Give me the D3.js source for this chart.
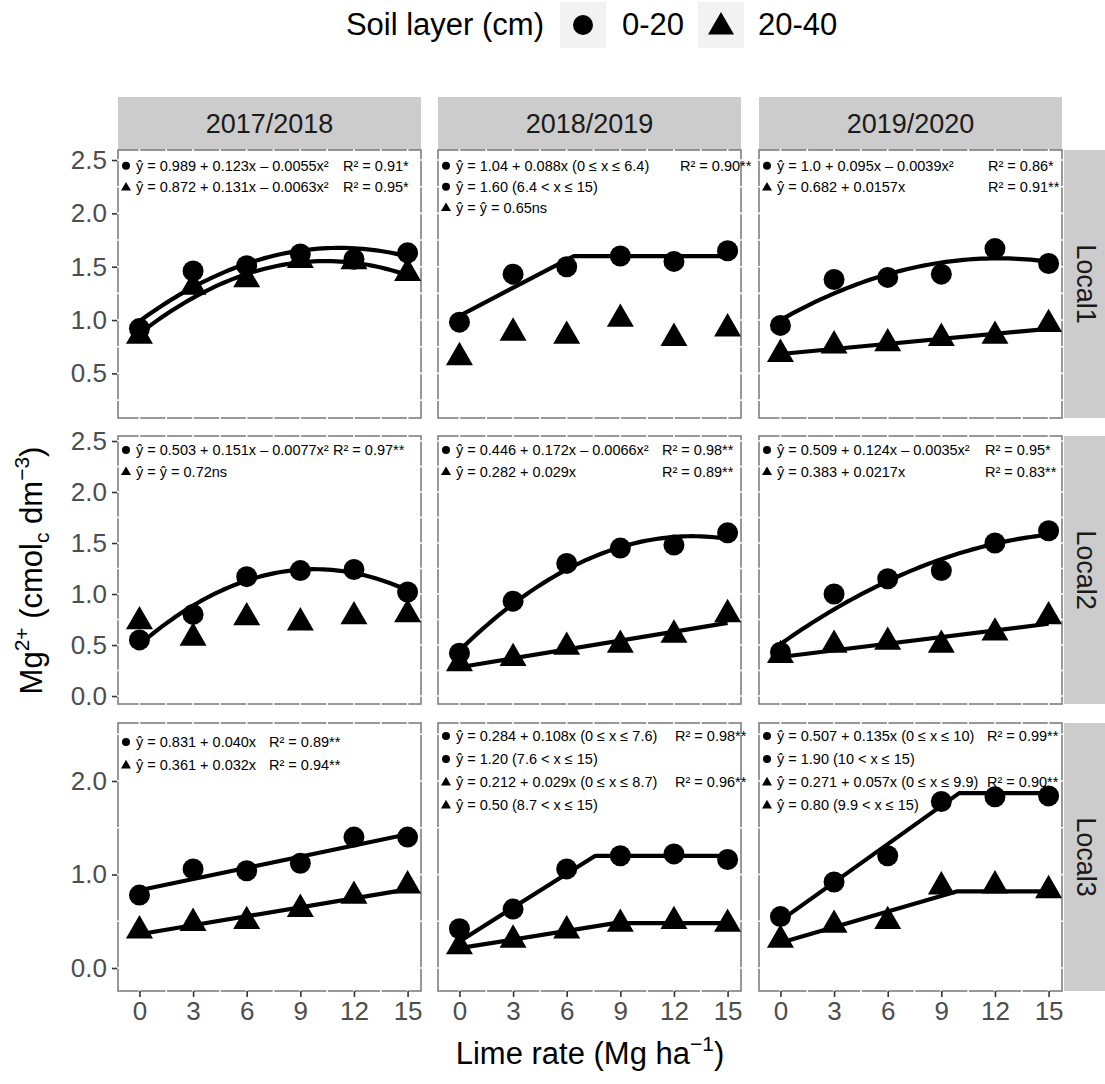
<!DOCTYPE html>
<html><head><meta charset="utf-8">
<script src="https://cdn.jsdelivr.net/npm/d3@7"></script>
<style>body{margin:0;background:#fff}svg{display:block}text{font-family:"Liberation Sans",Arial,sans-serif}</style>
</head><body><svg id="c" width="1105" height="1084"></svg>
<script>
// ---------- DATA ----------
const years = ["2017/2018","2018/2019","2019/2020"];
const locals = ["Local1","Local2","Local3"];
const limeRates = [0,3,6,9,12,15];
const xTicks = [0,3,6,9,12,15];
const yTicksByRow = [[0.5,1.0,1.5,2.0,2.5],[0.0,0.5,1.0,1.5,2.0,2.5],[0.0,1.0,2.0]];
const layers = ["0-20","20-40"];
// observed means [row][col]
const obs020 = [
  [[0.92,1.46,1.51,1.62,1.57,1.63],[0.98,1.43,1.50,1.60,1.55,1.65],[0.95,1.38,1.40,1.43,1.67,1.53]],
  [[0.55,0.80,1.17,1.23,1.24,1.02],[0.42,0.93,1.30,1.45,1.48,1.60],[0.43,1.00,1.15,1.23,1.50,1.62]],
  [[0.78,1.06,1.04,1.12,1.40,1.40],[0.42,0.63,1.06,1.20,1.22,1.16],[0.55,0.92,1.20,1.78,1.83,1.84]]
];
const obs2040 = [
  [[0.85,1.31,1.38,1.56,1.55,1.44],[0.65,0.88,0.85,1.01,0.83,0.92],[0.68,0.76,0.78,0.83,0.85,0.96]],
  [[0.73,0.57,0.77,0.72,0.78,0.80],[0.32,0.37,0.48,0.50,0.60,0.80],[0.40,0.50,0.53,0.50,0.62,0.78]],
  [[0.40,0.48,0.50,0.63,0.77,0.88],[0.23,0.30,0.40,0.47,0.50,0.47],[0.30,0.46,0.50,0.87,0.88,0.83]]
];
// fitted models: quad [a,b,c] ; lin [a,b] ; lp [a,b,join,plateau] ; ns null
const fit020 = [
  [{t:"quad",p:[0.989,0.123,-0.0055]},{t:"lp",p:[1.04,0.088,6.4,1.60]},{t:"quad",p:[1.0,0.095,-0.0039]}],
  [{t:"quad",p:[0.503,0.151,-0.0077]},{t:"quad",p:[0.446,0.172,-0.0066]},{t:"quad",p:[0.509,0.124,-0.0035]}],
  [{t:"lin",p:[0.831,0.040]},{t:"lp",p:[0.284,0.108,7.6,1.20]},{t:"lp",p:[0.507,0.135,10,1.87]}]
];
const fit2040 = [
  [{t:"quad",p:[0.872,0.131,-0.0063]},null,{t:"lin",p:[0.682,0.0157]}],
  [null,{t:"lin",p:[0.282,0.029]},{t:"lin",p:[0.383,0.0217]}],
  [{t:"lin",p:[0.361,0.032]},{t:"lp",p:[0.212,0.029,8.7,0.48]},{t:"lp",p:[0.271,0.057,9.9,0.82]}]
];
// equation labels [row][col] -> [symbol, equation, R2]
const eqs = [
  [[["c","ŷ = 0.989 + 0.123x – 0.0055x²","R² = 0.91*"],["t","ŷ = 0.872 + 0.131x – 0.0063x²","R² = 0.95*"]],
   [["c","ŷ = 1.04 + 0.088x (0 ≤ x ≤ 6.4)","R² = 0.90**"],["c","ŷ = 1.60 (6.4 < x ≤ 15)",""],["t","ŷ = ŷ = 0.65ns",""]],
   [["c","ŷ = 1.0 + 0.095x – 0.0039x²","R² = 0.86*"],["t","ŷ = 0.682 + 0.0157x","R² = 0.91**"]]],
  [[["c","ŷ = 0.503 + 0.151x – 0.0077x²","R² = 0.97**"],["t","ŷ = ŷ = 0.72ns",""]],
   [["c","ŷ = 0.446 + 0.172x – 0.0066x²","R² = 0.98**"],["t","ŷ = 0.282 + 0.029x","R² = 0.89**"]],
   [["c","ŷ = 0.509 + 0.124x – 0.0035x²","R² = 0.95*"],["t","ŷ = 0.383 + 0.0217x","R² = 0.83**"]]],
  [[["c","ŷ = 0.831 + 0.040x","R² = 0.89**"],["t","ŷ = 0.361 + 0.032x","R² = 0.94**"]],
   [["c","ŷ = 0.284 + 0.108x (0 ≤ x ≤ 7.6)","R² = 0.98**"],["c","ŷ = 1.20 (7.6 < x ≤ 15)",""],["t","ŷ = 0.212 + 0.029x (0 ≤ x ≤ 8.7)","R² = 0.96**"],["t","ŷ = 0.50 (8.7 < x ≤ 15)",""]],
   [["c","ŷ = 0.507 + 0.135x (0 ≤ x ≤ 10)","R² = 0.99**"],["c","ŷ = 1.90 (10 < x ≤ 15)",""],["t","ŷ = 0.271 + 0.057x (0 ≤ x ≤ 9.9)","R² = 0.90**"],["t","ŷ = 0.80 (9.9 < x ≤ 15)",""]]]
];

// ---------- LAYOUT ----------
const panelX = [118, 438, 759], panelW = 303;
const panelY = [150, 436, 723], panelH = 268;
const yDomains = [[0.082, 2.594],[-0.078, 2.549],[-0.246, 2.62]];
const yMinorStep = [0.25, 0.25, 0.5];
const xDomain = [-1.2, 15.75];
const eqFirst = [[15.7,15.7,15.7],[14,14,14],[19,13,13]];
const eqStep = [[21.5,21,21.5],[21.7,21.7,21.7],[23,23,23]];
const r2X = [[225,242,229],[215,224,226],[151,237,228]];
const border = "#7f7f7f", tickCol = "#333333", labCol = "#4d4d4d", stripCol = "#cccccc";
const eqSize = 14.5, tickSize = 26, titleSize = 31, stripSize = 27;

const svg = d3.select("#c");
const tri = (s) => { const h = s*Math.sqrt(3)/2; return `M0,${-h*2/3}L${s/2},${h/3}L${-s/2},${h/3}Z`; };

function modelPts(m){
  const pts=[];
  if(m.t==="quad"){ for(let x=0;x<=15.0001;x+=0.25) pts.push([x,m.p[0]+m.p[1]*x+m.p[2]*x*x]); }
  else if(m.t==="lin"){ pts.push([0,m.p[0]],[15,m.p[0]+m.p[1]*15]); }
  else if(m.t==="lp"){ pts.push([0,m.p[0]],[m.p[2],m.p[3]],[15,m.p[3]]); }
  return pts;
}

// legend
const lg = svg.append("g");
lg.append("text").attr("x",544).attr("y",35).attr("text-anchor","end").attr("font-size",titleSize).text("Soil layer (cm)");
lg.append("rect").attr("x",560).attr("y",2).attr("width",46).attr("height",46).attr("fill","#f2f2f2");
lg.append("circle").attr("cx",583).attr("cy",25).attr("r",10).attr("fill","#000");
lg.append("text").attr("x",622).attr("y",35).attr("font-size",titleSize).text(layers[0]);
lg.append("rect").attr("x",698).attr("y",2).attr("width",46).attr("height",46).attr("fill","#f2f2f2");
lg.append("path").attr("d",tri(26)).attr("transform","translate(721,27)").attr("fill","#000");
lg.append("text").attr("x",758).attr("y",35).attr("font-size",titleSize).text(layers[1]);

// strips
years.forEach((yr,j)=>{
  svg.append("rect").attr("x",panelX[j]).attr("y",97).attr("width",panelW).attr("height",53).attr("fill",stripCol);
  svg.append("text").attr("x",panelX[j]+panelW/2).attr("y",133).attr("text-anchor","middle").attr("font-size",stripSize).attr("fill","#1a1a1a").text(yr);
});
locals.forEach((lc,i)=>{
  svg.append("rect").attr("x",panelX[2]+panelW+2).attr("y",panelY[i]).attr("width",53).attr("height",panelH).attr("fill",stripCol);
  svg.append("text").attr("transform",`translate(${panelX[2]+panelW+2+22},${panelY[i]+panelH/2}) rotate(90)`)
    .attr("text-anchor","middle").attr("dy","0.35em").attr("font-size",stripSize).attr("fill","#1a1a1a").text(lc);
});

for(let i=0;i<3;i++){
  const y = d3.scaleLinear().domain(yDomains[i]).range([panelY[i]+panelH, panelY[i]]);
  const ya = svg.append("g").attr("transform",`translate(${panelX[0]},0)`)
    .call(d3.axisLeft(y).tickValues(yTicksByRow[i]).tickFormat(d3.format(".1f")).tickSize(6).tickPadding(5));
  ya.select(".domain").remove();
  ya.selectAll("line").attr("stroke",tickCol).attr("stroke-width",1.6);
  ya.selectAll("text").attr("font-size",tickSize).attr("fill",labCol).attr("font-family","Liberation Sans, Arial, sans-serif");
  for(let j=0;j<3;j++){
    const x = d3.scaleLinear().domain(xDomain).range([panelX[j], panelX[j]+panelW]);
    const g = svg.append("g");
    g.append("rect").attr("x",panelX[j]).attr("y",panelY[i]).attr("width",panelW).attr("height",panelH)
      .attr("fill","#fff").attr("stroke",border).attr("stroke-width",1.6);
    const xg = d3.range(0,15.01,1.5);
    g.selectAll(null).data(xg).join("line").attr("x1",d=>x(d)).attr("x2",d=>x(d))
      .attr("y1",panelY[i]-1).attr("y2",panelY[i]+panelH+1).attr("stroke","#fff").attr("stroke-width",1.6);
    const yg = d3.range(Math.ceil(yDomains[i][0]/yMinorStep[i])*yMinorStep[i], yDomains[i][1], yMinorStep[i]);
    g.selectAll(null).data(yg).join("line").attr("y1",d=>y(d)).attr("y2",d=>y(d))
      .attr("x1",panelX[j]-1).attr("x2",panelX[j]+panelW+1).attr("stroke","#fff").attr("stroke-width",1.6);
    const ln = d3.line().x(d=>x(d[0])).y(d=>y(d[1]));
    [fit020[i][j], fit2040[i][j]].forEach(m=>{
      if(!m) return;
      g.append("path").attr("d",ln(modelPts(m))).attr("fill","none").attr("stroke","#000").attr("stroke-width",4.2).attr("stroke-linejoin","round");
    });
    g.selectAll(null).data(limeRates.map((r,k)=>[r,obs2040[i][j][k]])).join("path")
      .attr("d",tri(27)).attr("transform",d=>`translate(${x(d[0])},${y(d[1])})`).attr("fill","#000");
    g.selectAll(null).data(limeRates.map((r,k)=>[r,obs020[i][j][k]])).join("circle")
      .attr("cx",d=>x(d[0])).attr("cy",d=>y(d[1])).attr("r",10.5).attr("fill","#000");
    eqs[i][j].forEach((e,k)=>{
      const cy = panelY[i]+eqFirst[i][j]+k*eqStep[i][j];
      if(e[0]==="c") g.append("circle").attr("cx",panelX[j]+8).attr("cy",cy).attr("r",4).attr("fill","#000");
      else g.append("path").attr("d",tri(10)).attr("transform",`translate(${panelX[j]+8},${cy+0.5})`).attr("fill","#000");
      g.append("text").attr("x",panelX[j]+18).attr("y",cy).attr("dy","0.36em").attr("font-size",eqSize).text(e[1]);
      if(e[2]) g.append("text").attr("x",panelX[j]+r2X[i][j]).attr("y",cy).attr("dy","0.36em").attr("font-size",eqSize).text(e[2]);
    });
    if(i===2){
      const xa = svg.append("g").attr("transform",`translate(0,${panelY[2]+panelH})`)
        .call(d3.axisBottom(x).tickValues(xTicks).tickSize(6).tickPadding(5));
      xa.select(".domain").remove();
      xa.selectAll("line").attr("stroke",tickCol).attr("stroke-width",1.6);
      xa.selectAll("text").attr("font-size",tickSize).attr("fill",labCol).attr("font-family","Liberation Sans, Arial, sans-serif");
    }
  }
}
// axis titles
const xt = svg.append("text").attr("x",(panelX[0]+panelX[2]+panelW)/2).attr("y",1064).attr("text-anchor","middle").attr("font-size",titleSize);
xt.append("tspan").text("Lime rate (Mg ha");
xt.append("tspan").attr("dy",-13).attr("font-size",21).text("−1");
xt.append("tspan").attr("dy",13).text(")");
const yt = svg.append("text").attr("transform",`translate(42,${(panelY[0]+panelY[2]+panelH)/2}) rotate(-90)`).attr("text-anchor","middle").attr("font-size",titleSize);
yt.append("tspan").text("Mg");
yt.append("tspan").attr("dy",-13).attr("font-size",21).text("2+");
yt.append("tspan").attr("dy",13).text(" (cmol");
yt.append("tspan").attr("dy",7).attr("font-size",21).text("c");
yt.append("tspan").attr("dy",-7).text(" dm");
yt.append("tspan").attr("dy",-13).attr("font-size",21).text("−3");
yt.append("tspan").attr("dy",13).text(")");
</script></body></html>
